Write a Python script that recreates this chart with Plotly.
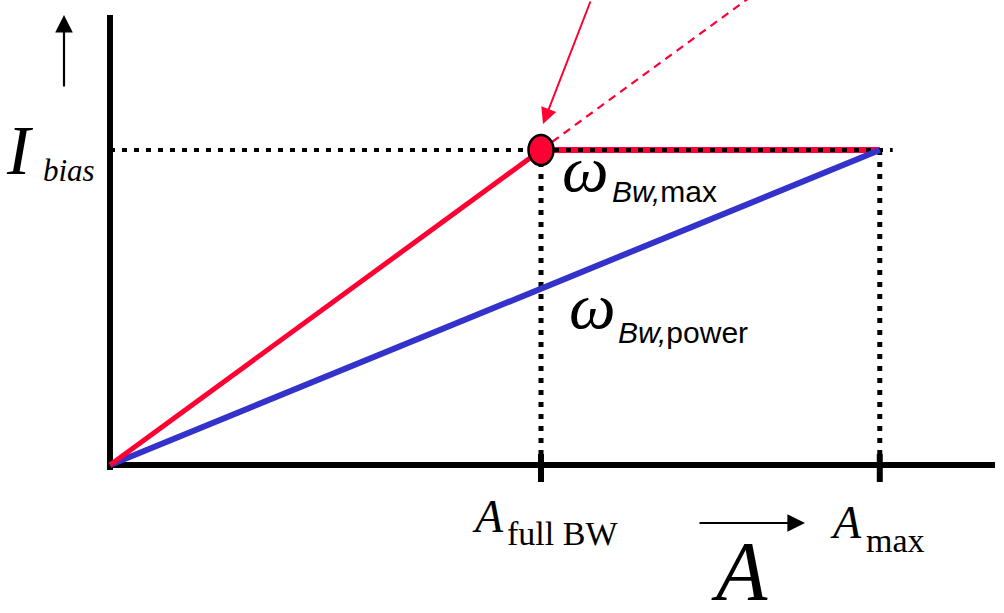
import plotly.graph_objects as go

# ---- schematic data (arbitrary units) ----
A_full_bw = 1.0      # amplitude at which full bandwidth is reached
A_max = 1.786        # maximum amplitude
I_bias = 1.0         # bias current level

red_x = [0.0, A_full_bw]          # omega_Bw,max branch (rising)
red_y = [0.0, I_bias]
sat_x = [A_full_bw, A_max]        # saturated part at I_bias
sat_y = [I_bias, I_bias]
blue_x = [0.0, A_max]             # omega_Bw,power branch
blue_y = [0.0, I_bias]
ext_x = [A_full_bw, 1.75]         # dashed continuation of red branch
ext_y = [I_bias, 1.75]

# ---- layout constants ----
W, H = 1004, 613
XR = [-0.2552, 2.0742]
YR = [-0.4698, 1.4762]
Y_TOP = 1.4286       # top of vertical axis
X_END = 2.0534       # end of horizontal axis
DOT_OVER = 0.03      # dotted guide overshoot past A_max
TICK_TOP, TICK_BOT = 0.035, -0.054

RED = "#FF0033"
BLUE = "#3333CC"
BLACK = "#000000"
DOTS = "5px,7px"

fig = go.Figure()

def line(x, y, color, width, dash="solid"):
    fig.add_trace(go.Scatter(x=x, y=y, mode="lines",
                             line=dict(color=color, width=width, dash=dash),
                             hoverinfo="skip", showlegend=False))

# axes
line([0, 0], [-0.016, Y_TOP], BLACK, 6)
line([-0.007, X_END], [0, 0], BLACK, 6)

# vertical guides and ticks
for xv in [A_full_bw, A_max]:
    line([xv, xv], [I_bias, TICK_TOP], BLACK, 5, DOTS)
    line([xv, xv], [TICK_TOP, TICK_BOT], BLACK, 6)

# saturated red segment then horizontal dotted guide
line(sat_x, sat_y, RED, 6)
line([0, A_max + DOT_OVER], [I_bias, I_bias], BLACK, 4, DOTS)

# dashed continuation
line(ext_x, ext_y, RED, 2.2, "8px,6px")

# branches
line(blue_x, blue_y, BLUE, 6)
line(red_x, red_y, RED, 5)

# operating point (ellipse in pixel size)
fig.add_shape(type="circle", xref="x", yref="y",
              xsizemode="pixel", ysizemode="pixel",
              xanchor=A_full_bw, yanchor=I_bias,
              x0=-12.5, x1=12.5, y0=-15, y1=15,
              fillcolor=RED, line=dict(color=BLACK, width=2.5))

def P(px, py):
    return px / W, 1 - py / H

def label(text, px, py, size, family, xanchor="left", yanchor="middle"):
    x, y = P(px, py)
    fig.add_annotation(x=x, y=y, xref="paper", yref="paper", text=text,
                       showarrow=False, xanchor=xanchor, yanchor=yanchor,
                       font=dict(size=size, family=family, color=BLACK))

SERIF = "Liberation Serif"
SANS = "Liberation Sans"

# I_bias
label("<i>I</i>", 4, 150, 70, SERIF)
label("<i>bias</i>", 41, 170, 31, SERIF)

# omega labels
label("<i>ω</i>", 560, 168, 66, SERIF)
label("<i>Bw,</i>max", 610, 192, 30, SANS)
label("<i>ω</i>", 567, 305, 66, SERIF)
label("<i>Bw,</i>power", 616, 332, 30, SANS)

# x labels
label("<i>A</i>", 470, 516, 46, SERIF)
label("full BW", 505, 533, 34, SERIF)
label("<i>A</i>", 828, 522, 46, SERIF)
label("max", 864, 540, 34, SERIF)
label("<i>A</i>", 709, 571, 84, SERIF)

# arrows
def arrow(tip_px, tip_py, tail_px, tail_py, color, width, size):
    x, y = P(tip_px, tip_py)
    fig.add_annotation(x=x, y=y, xref="paper", yref="paper", text="",
                       showarrow=True, arrowhead=2, arrowsize=size,
                       arrowwidth=width, arrowcolor=color,
                       ax=tail_px - tip_px, ay=tail_py - tip_py)

arrow(64, 15, 64, 88, BLACK, 2.2, 1.6)
arrow(805, 523, 698, 523, BLACK, 2.2, 1.6)
arrow(543, 124, 591, -2, RED, 2, 1.6)

fig.update_layout(
    width=W, height=H,
    margin=dict(l=0, r=0, t=0, b=0),
    paper_bgcolor="white", plot_bgcolor="white",
    xaxis=dict(range=XR, visible=False, fixedrange=True),
    yaxis=dict(range=YR, visible=False, fixedrange=True),
    showlegend=False,
)

fig.write_html("out.html",
               config={"displayModeBar": False, "staticPlot": True},
               post_script="document.body.style.margin='0';"
                           "document.body.style.overflow='hidden';")
